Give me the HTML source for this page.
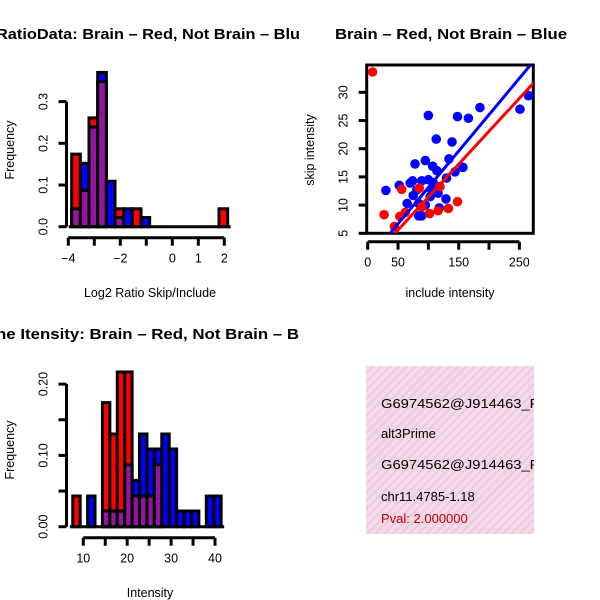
<!DOCTYPE html>
<html><head><meta charset="utf-8"><style>
html,body{margin:0;padding:0;background:#fff;}
svg{display:block;font-family:"Liberation Sans",sans-serif;}
</style></head><body>
<svg id="chart" width="600" height="600" viewBox="0 0 600 600" xmlns="http://www.w3.org/2000/svg">
<defs>
<pattern id="stripes" width="6" height="6" patternUnits="userSpaceOnUse" patternTransform="rotate(45)">
<rect width="6" height="6" fill="#f7d6f2"/><rect width="2" height="6" fill="#e3d0cf"/>
</pattern>
<pattern id="purp" width="4" height="4" patternUnits="userSpaceOnUse" patternTransform="rotate(45)">
<rect width="4" height="4" fill="#a010b0"/><rect width="2" height="4" fill="#8a1890"/>
</pattern>
</defs>
<text x="-4" y="39" font-size="15" font-weight="bold" textLength="304" lengthAdjust="spacingAndGlyphs">RatioData: Brain – Red, Not Brain – Blu</text>
<text x="335" y="39" font-size="15" font-weight="bold" textLength="232" lengthAdjust="spacingAndGlyphs">Brain – Red, Not Brain – Blue</text>
<text x="-4" y="339" font-size="15" font-weight="bold" textLength="303" lengthAdjust="spacingAndGlyphs">ne Itensity: Brain – Red, Not Brain – B</text>
<g id="g1"></g>
<g id="g2"></g>
<g id="g3"></g>
<g>
<rect x="366" y="366" width="168" height="168" fill="url(#stripes)"/>
<svg x="366" y="366" width="168" height="168">
<text x="15" y="42" font-size="13" textLength="170" lengthAdjust="spacingAndGlyphs">G6974562@J914463_RC</text>
<text x="15" y="72" font-size="13">alt3Prime</text>
<text x="15" y="103" font-size="13" textLength="170" lengthAdjust="spacingAndGlyphs">G6974562@J914463_RC</text>
<text x="15" y="135" font-size="13">chr11.4785-1.18</text>
<text x="15" y="157" font-size="13" fill="#c00000">Pval: 2.000000</text>
</svg>
</g>
</svg>
<script>
// ---- data: ratio histogram ----
const ratioBreakStart = -3.87;
const ratioBinWidth = 1/3;
const ratioRed  = [0.174,0.087,0.261,0.348,0,0.043,0,0.043,0,0,0,0,0,0,0,0,0,0.043];
const ratioBlue = [0.043,0.152,0.239,0.370,0.109,0.022,0.043,0,0.022,0,0,0,0,0,0,0,0,0];
const ratioXTicks = [-4,-3,-2,-1,0,1,2];
const ratioXLabels = ["-4","","-2","","0","1","2"];
const ratioYTicks = [0,0.1,0.2,0.3];
const ratioYLabels = ["0.0","0.1","0.2","0.3"];
// ---- data: scatter ----
const blueX = [30,52,100,148,166,185,251,265,113,139,134,157,144,95,78,107,114,74,70,89,100,108,130,75,65,84,95,103,116,129,118,84,89,105,119,81];
const blueY = [12.6,13.5,25.9,25.7,25.4,27.3,27,29.4,21.7,21.2,18.2,16.7,15.9,17.9,17.3,16.9,16.1,14.3,13.9,14.3,14.5,14,14.8,11.7,10.3,10.3,10,11.5,12.1,11.1,9.5,8.1,8.1,12.7,13.3,12.7];
const redX = [8,27,44,56,53,62,85,102,116,133,148,119,89];
const redY = [33.6,8.3,6.2,12.8,8,8.7,13,8.5,9,9.4,10.6,13.3,9.7];
const blueFit = [0.23,0.129];
const redFit = [-0.25,0.1167];
const scXTicks = [0,50,100,150,200,250];
const scXLabels = ["0","50","","150","","250"];
const scYTicks = [5,10,15,20,25,30];
// ---- data: intensity histogram ----
const intBreakStart = 7.6;
const intBinWidth = 1.69;
const intRed  = [0.043,0,0,0,0.174,0.130,0.217,0.217,0.043,0.043,0.043,0.087,0,0,0,0,0,0,0,0];
const intBlue = [0,0,0.043,0,0.022,0.022,0.022,0.087,0.065,0.130,0.109,0.109,0.130,0.109,0.022,0.022,0.022,0,0.043,0.043];
const intXTicks = [10,15,20,25,30,35,40];
const intXLabels = ["10","","20","","30","","40"];
const intYTicks = [0,0.05,0.10,0.15,0.20];
const intYLabels = ["0.00","","0.10","","0.20"];

const NS="http://www.w3.org/2000/svg";
function mk(parent,tag,attrs){const e=document.createElementNS(NS,tag);for(const k in attrs)e.setAttribute(k,attrs[k]);parent.appendChild(e);return e;}

function hist(g,o){
  const sx=v=>o.x0+(v-o.xv0)*o.xs, sy=v=>o.y0-v*o.ys;
  let a=mk(g,'line',{x1:o.yax,x2:o.yax,y1:sy(o.yT[0]),y2:sy(o.yT[o.yT.length-1]),stroke:'#000','stroke-width':3});
  
  
  o.yT.forEach((t,i)=>{
    const l=mk(g,'line',{x1:o.yax-8,x2:o.yax,y1:sy(t),y2:sy(t),stroke:'#000','stroke-width':3});
    
    
    if(o.yL[i]){const tx=mk(g,'text',{x:0,y:0,'font-size':12.5,'text-anchor':'middle',transform:`translate(${o.yax-19},${sy(t)}) rotate(-90)`});tx.textContent=o.yL[i];
    
    }
  });
  a=mk(g,'line',{x1:sx(o.xT[0]),x2:sx(o.xT[o.xT.length-1]),y1:o.xax,y2:o.xax,stroke:'#000','stroke-width':3});
  
  
  o.xT.forEach((t,i)=>{
    const l=mk(g,'line',{x1:sx(t),x2:sx(t),y1:o.xax,y2:o.xax+8,stroke:'#000','stroke-width':3});
    
    
    if(o.xL[i]){const tx=mk(g,'text',{x:sx(t),y:o.xax+25,'font-size':12.5,'text-anchor':'middle'});tx.textContent=o.xL[i].replace('-','\u2212');
    
    }
  });
  const nb=o.red.length;
  const bl=mk(g,'line',{x1:sx(o.bs)-3,x2:sx(o.bs+nb*o.bw)+3,y1:o.y0,y2:o.y0,stroke:'#000','stroke-width':3});
  
  
  for(let i=0;i<nb;i++){
    const r=o.red[i],b=o.blue[i],x=sx(o.bs+i*o.bw),w=o.bw*o.xs;
    const mx=Math.max(r,b),mn=Math.min(r,b);
    if(mx>0){const e=mk(g,'rect',{x:x,y:sy(mx),width:w,height:mx*o.ys,fill:r>=b?'#ff0000':'#0000ff',stroke:'#000','stroke-width':3});
      
      }
    if(mn>0){const e=mk(g,'rect',{x:x,y:sy(mn),width:w,height:mn*o.ys,fill:'url(#purp)',stroke:'#000','stroke-width':3});
      
      }
  }
  let t=mk(g,'text',{x:0,y:0,'font-size':12.5,'text-anchor':'middle',transform:`translate(14,${o.fy}) rotate(-90)`});t.textContent='Frequency';
  
  
  t=mk(g,'text',{x:150,y:o.xty,'font-size':12.5,'text-anchor':'middle'});t.textContent=o.xtitle;
  
  
}

hist(document.getElementById('g1'),{x0:68.3,xv0:-4,xs:26,y0:226.7,ys:417,yax:66.5,xax:237.7,
  xT:ratioXTicks,xL:ratioXLabels,yT:ratioYTicks,yL:ratioYLabels,red:ratioRed,blue:ratioBlue,bs:ratioBreakStart,bw:ratioBinWidth,
  fy:150,xty:297,xtitle:'Log2 Ratio Skip/Include'});
hist(document.getElementById('g3'),{x0:83.3,xv0:10,xs:4.39,y0:526.7,ys:713,yax:66.5,xax:537.7,
  xT:intXTicks,xL:intXLabels,yT:intYTicks,yL:intYLabels,red:intRed,blue:intBlue,bs:intBreakStart,bw:intBinWidth,
  fy:450,xty:597,xtitle:'Intensity'});

(function(){
  const g=document.getElementById('g2');
  const sx=v=>367.7+v*0.6066, sy=v=>233.3-(v-5)*5.64;
  const L=366.7,R=533.3,T=65,B=233.3;
  const clip=mk(g,'clipPath',{id:'scclip'});mk(clip,'rect',{x:L,y:T,width:R-L,height:B-T});
  let e=mk(g,'rect',{x:L,y:T,width:R-L,height:B-T,fill:'none',stroke:'#000','stroke-width':3});
  
  
  scYTicks.forEach(t=>{
    const l=mk(g,'line',{x1:L-8,x2:L,y1:sy(t),y2:sy(t),stroke:'#000','stroke-width':3});
    
    
    const tx=mk(g,'text',{x:0,y:0,'font-size':12.5,'text-anchor':'middle',transform:`translate(${L-19},${sy(t)}) rotate(-90)`});tx.textContent=t;
    
    
  });
  const xa=241.7;
  e=mk(g,'line',{x1:sx(0),x2:sx(250),y1:xa,y2:xa,stroke:'#000','stroke-width':3});
  
  
  scXTicks.forEach((t,i)=>{
    const l=mk(g,'line',{x1:sx(t),x2:sx(t),y1:xa,y2:xa+8,stroke:'#000','stroke-width':3});
    
    
    if(scXLabels[i]){const tx=mk(g,'text',{x:sx(t),y:xa+25,'font-size':12.5,'text-anchor':'middle'});tx.textContent=scXLabels[i];
    
    }
  });
  const pg=mk(g,'g',{'clip-path':'url(#scclip)'});
  blueX.forEach((x,i)=>{const c=mk(pg,'circle',{cx:sx(x),cy:sy(blueY[i]),r:4.8,fill:'#0000ff'});
    
    });
  redX.forEach((x,i)=>{const c=mk(pg,'circle',{cx:sx(x),cy:sy(redY[i]),r:4.8,fill:'#ff0000'});
    
    });
  [[blueFit,'#0000ff','fit-line-blue'],[redFit,'#ff0000','fit-line-red']].forEach(([f,col,nm])=>{
    const l=mk(pg,'line',{x1:sx(0),y1:sy(f[0]),x2:sx(300),y2:sy(f[0]+f[1]*300),stroke:col,'stroke-width':3});
    
    
  });
  let t=mk(g,'text',{x:0,y:0,'font-size':12.5,'text-anchor':'middle',transform:'translate(314,150) rotate(-90)'});t.textContent='skip intensity';
  
  
  t=mk(g,'text',{x:450,y:297,'font-size':12.5,'text-anchor':'middle'});t.textContent='include intensity';
  
  
})();
</script>
</body></html>
